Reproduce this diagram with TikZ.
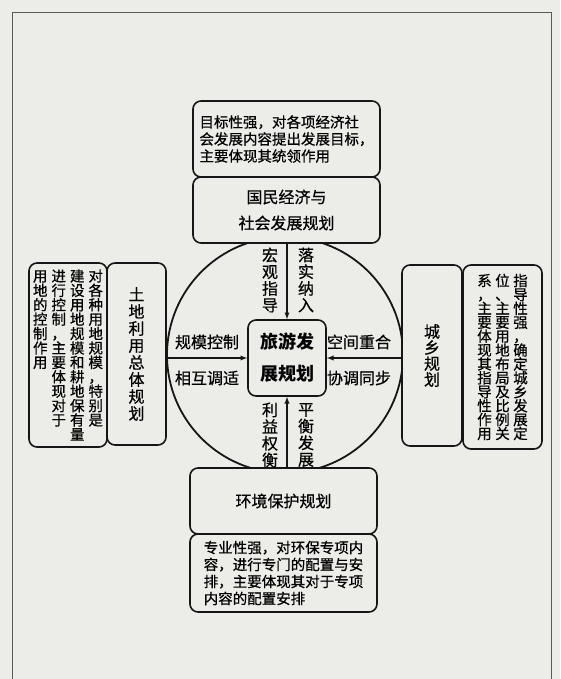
\documentclass[tikz,border=0pt]{standalone}
\usepackage{fontspec}
\setmainfont{Noto Sans CJK SC}[UprightFeatures={FakeBold=0.6}]
\usetikzlibrary{arrows}
\definecolor{paper}{RGB}{236,236,233}
\definecolor{ink}{RGB}{22,22,22}
\definecolor{rim}{RGB}{90,90,90}
\makeatletter
\newcommand\vcol[2][1.03em]{\vtop{\baselineskip=#1\relax\lineskiplimit=-100pt\vcol@a#2\relax}}
\def\vcol@a#1{\ifx#1\relax\else\hbox to 1em{\hss#1\hss}\expandafter\vcol@a\fi}
\makeatother

\begin{document}
\begin{tikzpicture} [x=1pt, y=-1pt,
  box/.style={draw=ink, line width=1.6pt, rounded corners=8pt, fill=paper, inner sep=0pt},
  note/.style={box, font=\fontsize{14.5}{17}\selectfont},
  lbl/.style={inner sep=0pt, font=\fontsize{16}{17}\selectfont},
  link/.style={draw=ink, line width=1.3pt, -latex}]
 \fill [paper] (0,0) rectangle (560,679);
 \useasboundingbox (0,0) rectangle (560,679);
 \draw [rim, line width=0.8pt] (12,679) -- (12,12) -- (551,12) -- (551,679);
 \draw [ink, line width=1.8pt] (285,355) circle (118);
 \node (goalnote) [note, minimum width=187, minimum height=76, align=left] at (286.5,139) {目标性强，对各项经济社\\会发展内容提出发展目标，\\主要体现其统领作用};
 \node (natl) [box, minimum width=187, minimum height=66, align=center, font=\fontsize{16}{26}\selectfont] at (286.5,210) {国民经济与\\社会发展规划};
 \node (plan) [box, minimum width=78, minimum height=76, align=center, font=\bfseries\fontsize{18}{32}\selectfont] at (287,358) {旅游发\\展规划};
 \node (land) [box, minimum width=59, minimum height=182, font=\fontsize{16}{17}\selectfont] at (136.5,354) {\vcol[17pt]{土地利用总体规划}};
 \node (landnote) [note, minimum width=78, minimum height=184] at (68,355) {\vcol[14.4pt]{用地的控制作用}\hskip4pt\vcol[14.4pt]{进行控制，主要体现对于}\hskip4pt\vcol[14.4pt]{建设用地规模和耕地保有量}\hskip4pt\vcol[14.4pt]{对各种用地规模，特别是}};
 \node (city) [box, minimum width=60, minimum height=181, font=\fontsize{16}{17}\selectfont] at (432,355.5) {\vcol[16pt]{城乡规划}};
 \node (citynote) [note, minimum width=79, minimum height=184] at (502.5,357) {\vcol[13.9pt]{系，主要体现其指导性作用}\hskip3.5pt\vcol[13.9pt]{位、主要用地布局及比例关}\hskip3.5pt\vcol[13.9pt]{指导性强，确定城乡发展定}};
 \node (env) [box, minimum width=187, minimum height=66, font=\fontsize{16}{17}\selectfont] at (283.5,501) {环境保护规划};
 \node (envnote) [note, minimum width=187, minimum height=78, align=left] at (283.5,573) {专业性强，对环保专项内\\容，进行专门的配置与安\\排，主要体现其对于专项\\内容的配置安排};
 \draw [link] (plan.north |- natl.south) -- (plan.north);
 \draw [link] (plan.south |- env.north) -- (plan.south);
 \draw [link] (land.east |- plan.west) -- (plan.west);
 \draw [link] (city.west |- plan.east) -- (plan.east);
 \node (guide) [lbl] at (270,280) {\vcol[16.7pt]{宏观指导}};
 \node (adopt) [lbl] at (306,280) {\vcol[16.7pt]{落实纳入}};
 \node (weigh) [lbl] at (270,435) {\vcol[16.7pt]{利益权衡}};
 \node (balance) [lbl] at (306,435) {\vcol[16.7pt]{平衡发展}};
 \node (scale) [lbl] at (207,342) {规模控制};
 \node (adapt) [lbl] at (207,378) {相互调适};
 \node (space) [lbl] at (359,342) {空间重合};
 \node (sync) [lbl] at (359,378) {协调同步};
\end{tikzpicture}
\end{document}
